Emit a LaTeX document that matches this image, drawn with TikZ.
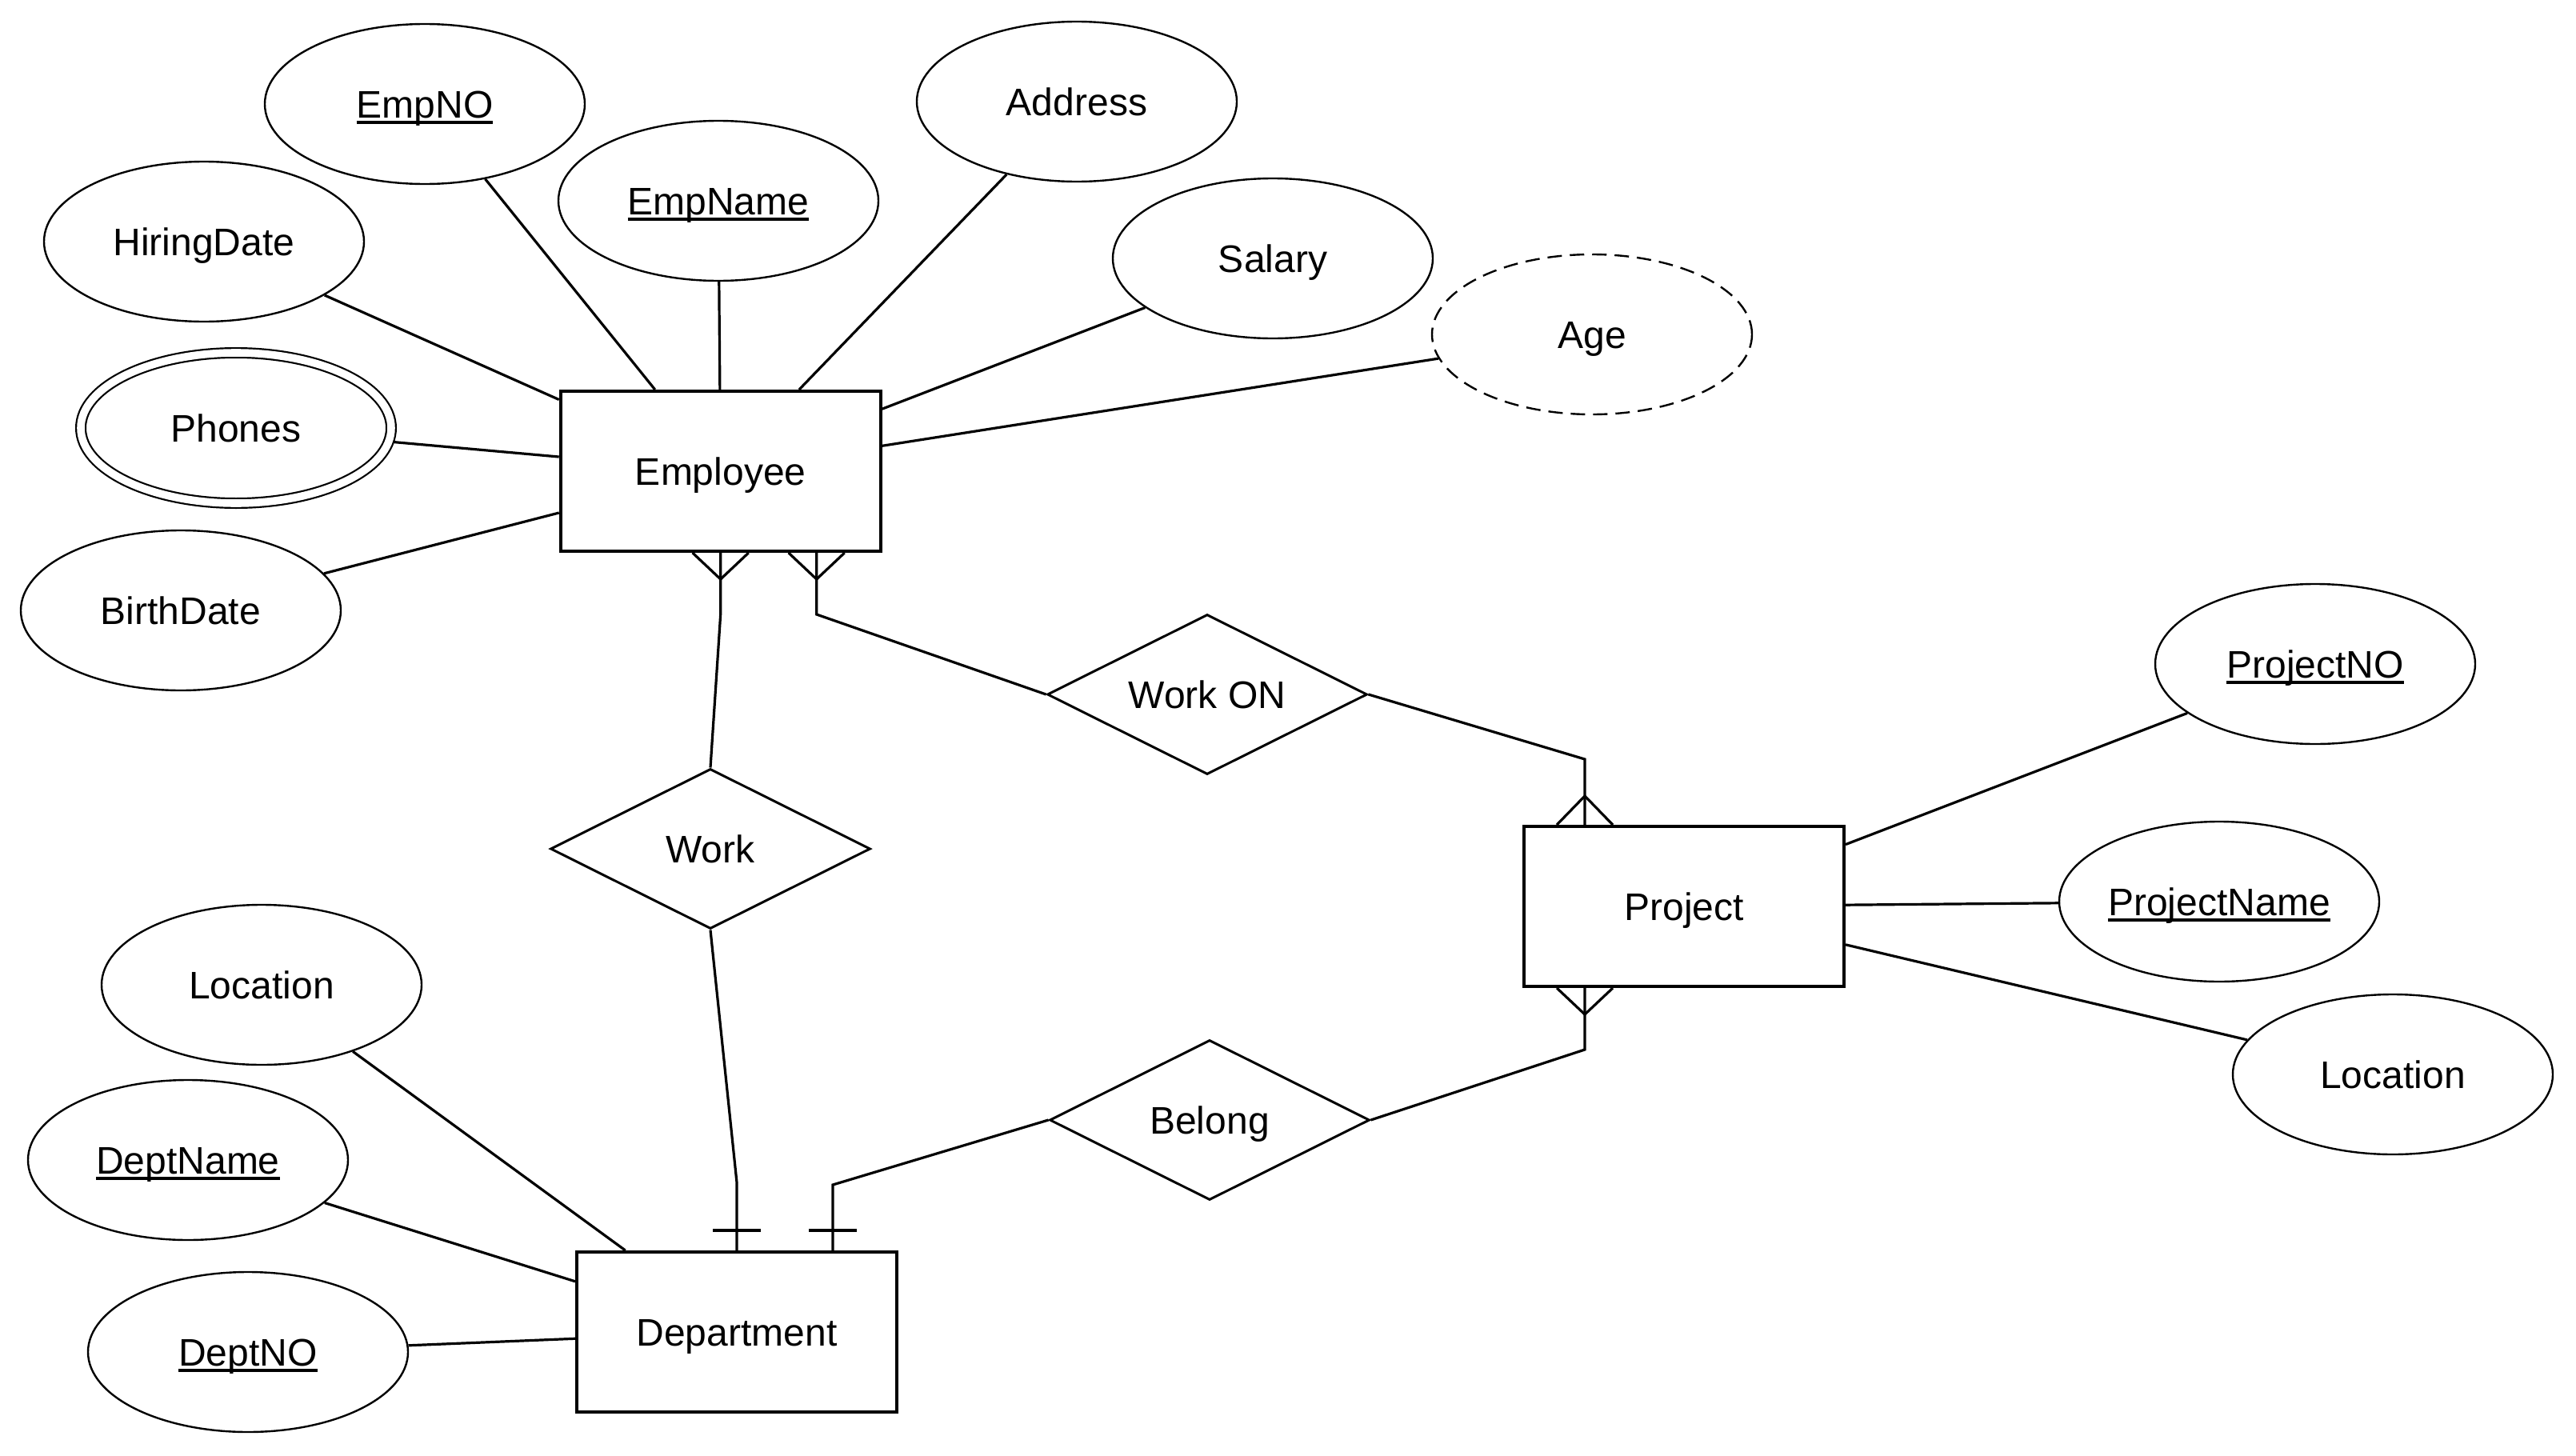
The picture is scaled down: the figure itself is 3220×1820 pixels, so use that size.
\documentclass[tikz,border=0pt]{standalone}
\usepackage{fontspec}
\setmainfont{Liberation Sans}
\usetikzlibrary{shapes.geometric,calc}
\newcommand{\keyattr}[1]{\setbox0=\hbox{#1}\rlap{\rule[-4pt]{\wd0}{2pt}}\box0}
\begin{document}
\begin{tikzpicture}[x=0.5pt,y=-0.5pt,
  every node/.style={font=\fontsize{24}{28}\selectfont, text height=17pt, text depth=0pt, inner sep=0pt},
  entity/.style={draw, rectangle, line width=2pt, minimum width=200pt, minimum height=100pt},
  attr/.style={draw, ellipse, line width=1.2pt, minimum width=200pt, minimum height=100pt},
  multiattr/.style={draw, ellipse, line width=1.1pt, double, double distance=4.8pt, minimum width=194pt, minimum height=94pt, outer sep=3pt},
  derived/.style={attr, dash pattern=on 9pt off 5pt},
  rel/.style={draw, diamond, aspect=2, line width=1.5pt, minimum width=200pt, minimum height=100pt},
  conn/.style={line width=1.6pt},
  foot/.style={line width=1.6pt}]
\useasboundingbox (0,0) rectangle (3220,1820);
% entities
\node[entity] (emp) at (900.7,589) {Employee};
\node[entity] (proj) at (2105,1133) {Project};
\node[entity] (dept) at (921,1665) {Department};
% employee attributes
\node[attr] (empno) at (531,130) {\keyattr{EmpNO}};
\node[attr] (empname) at (898,251) {\keyattr{EmpName}};
\node[attr] (address) at (1346,127) {Address};
\node[attr] (hiring) at (255,302) {HiringDate};
\node[attr] (salary) at (1591,323) {Salary};
\node[derived] (age) at (1990,418) {Age};
\node[multiattr] (phones) at (295,535) {Phones};
\node[attr] (birth) at (226,763) {BirthDate};
% project attributes
\node[attr] (projno) at (2894,830) {\keyattr{ProjectNO}};
\node[attr] (projname) at (2774,1127) {\keyattr{ProjectName}};
\node[attr] (plocation) at (2991,1343) {Location};
% department attributes
\node[attr] (dlocation) at (327,1231) {Location};
\node[attr] (deptname) at (235,1450) {\keyattr{DeptName}};
\node[attr] (deptno) at (310,1690) {\keyattr{DeptNO}};
% relationships
\node[rel] (work) at (888,1061) {Work};
\node[rel] (workon) at (1509,868) {Work ON};
\node[rel] (belong) at (1512,1400) {Belong};
% attribute connectors
\foreach \a in {empno,empname,address,hiring,salary,age,phones,birth}
  \draw[conn] (emp) -- (\a);
\foreach \a in {projno,projname,plocation}
  \draw[conn] (proj) -- (\a);
\foreach \a in {dlocation,deptname,deptno}
  \draw[conn] (dept) -- (\a);
% relationship connectors
\coordinate (e1) at (emp.south);
\coordinate (e2) at ($(emp.south)+(120,0)$);
\coordinate (p1) at ($(proj.north)+(-124,0)$);
\coordinate (p2) at ($(proj.south)+(-124,0)$);
\coordinate (d1) at (dept.north);
\coordinate (d2) at ($(dept.north)+(120,0)$);
\draw[conn] (e1) -- ++(0,77) -- (work.north);
\draw[conn] (e2) -- ++(0,77) -- (workon.west);
\draw[conn] (p1) -- ++(0,-82) -- (workon.east);
\draw[conn] (p2) -- ++(0,77) -- (belong.east);
\draw[conn] (d1) -- ++(0,-85) -- (work.south);
\draw[conn] (d2) -- ++(0,-82) -- (belong.west);
% crow's feet (many)
\draw[foot] ($(e1)+(-35,0)$) -- ($(e1)+(0,33)$) -- ($(e1)+(35,0)$);
\draw[foot] ($(e2)+(-35,0)$) -- ($(e2)+(0,33)$) -- ($(e2)+(35,0)$);
\draw[foot] ($(p1)+(-35,0)$) -- ($(p1)+(0,-36)$) -- ($(p1)+(35,0)$);
\draw[foot] ($(p2)+(-35,0)$) -- ($(p2)+(0,33)$) -- ($(p2)+(35,0)$);
% one bars
\draw[foot] ($(d1)+(-30,-25)$) -- ($(d1)+(30,-25)$);
\draw[foot] ($(d2)+(-30,-25)$) -- ($(d2)+(30,-25)$);
\end{tikzpicture}
\end{document}
